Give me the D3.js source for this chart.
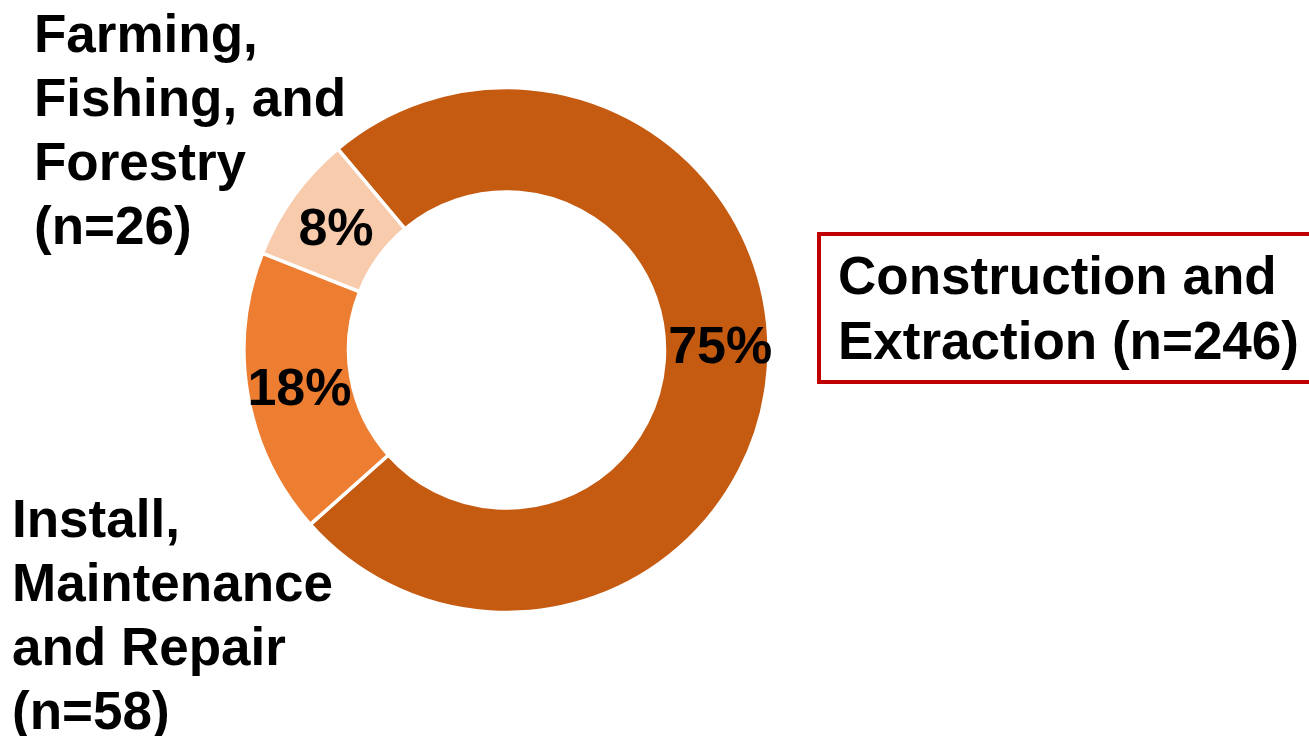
<!DOCTYPE html>
<html>
<head>
<meta charset="utf-8">
<script src="https://cdn.jsdelivr.net/npm/d3@7"></script>
<style>
	body { margin: 0; background: #fff; }
	text { font-family: Arial, 'Liberation Sans', sans-serif; font-weight: bold; fill: #000; }
</style>
</head>
<body>
<div id="chart"></div>
<script>
const categories = [ 'Construction and Extraction', 'Install, Maintenance and Repair', 'Farming, Fishing, and Forestry' ];
const counts = [ 246, 58, 26 ];
const percentLabels = [ '75%', '18%', '8%' ];
const colors = [ '#C55A11', '#ED7D31', '#F8CBAD' ];
const nameLines = [
	[ 'Construction and', 'Extraction (n=246)' ],
	[ 'Install,', 'Maintenance', 'and Repair', '(n=58)' ],
	[ 'Farming,', 'Fishing, and', 'Forestry', '(n=26)' ]
];

const width = 1309;
const height = 736;
const cx = 506.5;
const cy = 350;
const outerR = 262.5;
const innerR = 158;

const svg = d3.select('#chart').append('svg').attr('width', width).attr('height', height);

const data = categories.map((c, i) => ({ name: c, n: counts[i], pct: percentLabels[i], color: colors[i] }));

const pie = d3
	.pie()
	.sort(null)
	.value((d) => d.n)
	.startAngle(-40 * Math.PI / 180)
	.endAngle(320 * Math.PI / 180);

const arc = d3.arc().innerRadius(innerR).outerRadius(outerR);

const g = svg.append('g').attr('transform', `translate(${cx}, ${cy})`);
const arcs = pie(data);

g
	.selectAll('path')
	.data(arcs)
	.enter()
	.append('path')
	.attr('d', arc)
	.attr('fill', (d) => d.data.color)
	.attr('stroke', '#fff')
	.attr('stroke-width', 3.5)
	.attr('stroke-linejoin', 'miter');

// the big slice label sits a bit higher than its centroid in the original
const labelNudge = { '75%': [ 4, -20 ] };

g
	.selectAll('text.pct')
	.data(arcs)
	.enter()
	.append('text')
	.attr('class', 'pct')
	.attr('text-anchor', 'middle')
	.attr('dominant-baseline', 'central')
	.attr('font-size', 52)
	.attr('x', (d) => arc.centroid(d)[0] + (labelNudge[d.data.pct] || [ 0, 0 ])[0])
	.attr('y', (d) => arc.centroid(d)[1] + (labelNudge[d.data.pct] || [ 0, 0 ])[1])
	.text((d) => d.data.pct);

// category labels
function multiLine(lines, x, y, lh) {
	const t = svg.append('text').attr('font-size', 53).attr('x', x).attr('y', y);
	lines.forEach((l, i) => {
		t.append('tspan').attr('x', x).attr('y', y + i * lh).text(l);
	});
	return t;
}

svg
	.append('rect')
	.attr('x', 819)
	.attr('y', 234)
	.attr('width', 520)
	.attr('height', 148)
	.attr('fill', 'none')
	.attr('stroke', '#C00000')
	.attr('stroke-width', 4);

multiLine(nameLines[0], 838, 294, 65);
multiLine(nameLines[1], 12, 537, 64);
multiLine(nameLines[2], 34, 52, 64);
</script>
</body>
</html>
